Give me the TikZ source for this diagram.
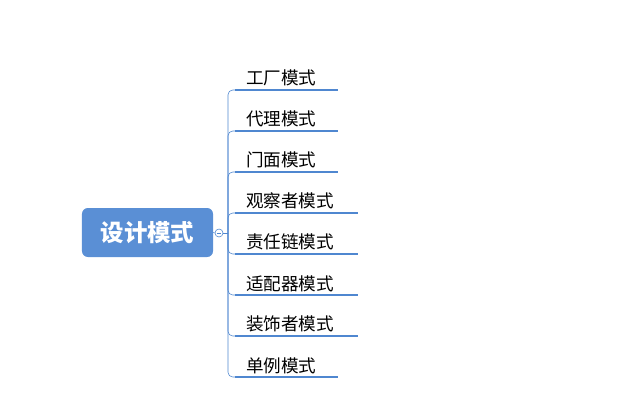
\documentclass[tikz,border=0pt]{standalone}
\usepackage{fontspec}
\setmainfont{Noto Sans CJK SC}
\usetikzlibrary{positioning,calc}
\definecolor{mapblue}{HTML}{4F87D0}
\definecolor{rootblue}{HTML}{5A8FD5}
\tikzset{
  root/.style={fill=rootblue, rounded corners=5pt, text=white, font=\fontsize{20}{24}\selectfont\bfseries,
    minimum width=3.93cm, minimum height=1.47cm},
  item/.style={anchor=south west, inner xsep=0.33cm, inner ysep=0.1cm, align=left,
    font=\fontsize{15}{18}\selectfont},
  short/.style={item, text width=2.43cm},
  long/.style={item, text width=3.03cm},
  underline/.style={mapblue, line width=1.8pt},
  branch/.style={mapblue, line width=0.5pt, rounded corners=4pt}
}
\begin{document}
\begin{tikzpicture}[x=0.03cm,y=-0.03cm]
  \useasboundingbox (0,0) rectangle (627,412);

  \node[root] (design) at (147.5,232.5) {设计模式};
  \node[draw=mapblue, circle, inner sep=0pt, minimum size=0.24cm, line width=0.5pt] (toggle) at (219,233) {};
  \draw[mapblue, line width=0.5pt] ($(toggle.west)!0.3!(toggle.east)$) -- ($(toggle.west)!0.7!(toggle.east)$);
  \coordinate (stem) at (228,233);
  \draw[branch] (design.east) -- (toggle.west);
  \draw[branch] (toggle.east) -- (stem);

  \node[short] (factory)   at (235,90)  {工厂模式};
  \node[short] (proxy)     at (235,131) {代理模式};
  \node[short] (facade)    at (235,172) {门面模式};
  \node[long]  (observer)  at (235,213) {观察者模式};
  \node[long]  (chain)     at (235,254) {责任链模式};
  \node[long]  (adapter)   at (235,295) {适配器模式};
  \node[long]  (decorator) at (235,336) {装饰者模式};
  \node[short] (singleton) at (235,377) {单例模式};

  \foreach \n in {factory,proxy,facade,observer,chain,adapter,decorator,singleton}{
    \draw[underline] (\n.south west) -- (\n.south east);
    \draw[branch] (stem) |- (\n.south west);
  }
\end{tikzpicture}
\end{document}
